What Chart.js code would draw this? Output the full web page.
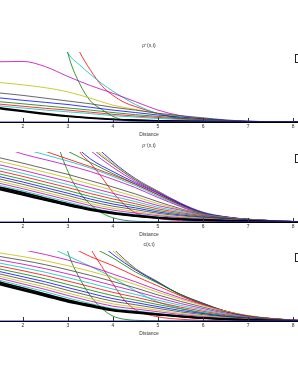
<!DOCTYPE html>
<html>
<head>
<meta charset="utf-8">
<script src="https://cdn.jsdelivr.net/npm/chart.js@4"></script>
<style>
  body { margin: 0; background: #fff; }
  #wrap { position: relative; width: 298px; height: 385px; overflow: hidden; }
  canvas { position: absolute; left: 0; }
</style>
</head>
<body>
<div id="wrap">
  <canvas id="p1" width="298" height="100" style="top:40px"></canvas>
  <canvas id="p2" width="298" height="100" style="top:140px"></canvas>
  <canvas id="p3" width="298" height="100" style="top:239px"></canvas>
</div>
<script>
// x grids (Distance)
const X = [1.4, 2, 2.5, 3, 3.5, 4, 4.5, 5, 5.5, 6, 6.5, 7, 7.5, 8, 8.2];
const XS = [2.5, 2.75, 3, 3.25, 3.5, 3.75, 4, 4.25, 4.5, 5, 5.5, 6, 7, 8.2];
const zeroLine = [0, 0];
const zeroX = [1.3, 8.3];

const titles = ['\u03c1\u207a(x,t)', '\u03c1\u207b(x,t)', 'c(x,t)'];
const xTicks = [2, 3, 4, 5, 6, 7, 8];

// rho+ : curves on X
const rhoPlus = [
  [21, 16, 12, 8.5, 6, 4, 2.8, 1.8, 1.2, 0.8, 0.5, 0.3, 0.1, 0, 0],
  [19.5, 15, 11, 7.8, 5.4, 3.6, 2.4, 1.5, 1, 0.6, 0.4, 0.2, 0.1, 0, 0],
  [23.5, 20, 17, 14.5, 12, 9, 7, 5, 3.5, 2.2, 1.2, 0.5, 0.2, 0, 0],
  [26, 22.5, 19.5, 17, 14, 11, 8.5, 6.5, 4.5, 3, 1.5, 0.6, 0.2, 0.1, 0],
  [29.5, 26, 23, 20, 17, 13.5, 10.5, 8, 5.5, 3.5, 1.8, 0.8, 0.3, 0.1, 0],
  [35, 31, 28, 25, 21, 17, 13.5, 10, 7, 4.5, 2.3, 1, 0.4, 0.1, 0],
  [42, 38, 34, 30, 26, 21, 17, 12.5, 9, 6, 3, 1.2, 0.5, 0.1, 0],
  [57, 53, 49, 43, 34, 24, 18, 12, 8, 5, 2.5, 1, 0.4, 0.1, 0],
  [86, 86.5, 79, 65, 52, 41, 29, 17, 9, 4.5, 2, 0.8, 0.3, 0.1, 0]
];
const rhoPlusColors = ['k', 'k', 'c', 'r', 'g', 'b', 'k', 'y', 'm'];
// rho+ : steep curves on XS
const rhoPlusSteep = [
  [300, 180, 98, 56, 30, 18, 8, 2.5, 1, 0.3, 0, 0, 0, 0],
  [170, 130, 98, 82, 68, 55, 44, 34, 25, 12, 6, 2.7, 0.5, 0],
  [250, 180, 135, 101, 74, 52, 38, 28, 22, 12, 5, 2, 0.3, 0]
];
const rhoPlusSteepColors = ['g', 'c', 'r'];

// rho- : curves on X
const rhoMinus = [
  [51, 42, 34, 26, 19, 13.5, 9.5, 6.5, 4.4, 3, 2, 1.2, 0.6, 0.2, 0],
  [49, 40, 32, 24.5, 17.8, 12.6, 8.8, 6, 4, 2.7, 1.8, 1, 0.5, 0.1, 0],
  [47.5, 38.5, 31, 23.5, 17, 12, 8.3, 5.6, 3.7, 2.5, 1.6, 0.9, 0.4, 0.1, 0],
  [53.5, 44.5, 36.5, 28.5, 20.5, 14.3, 10.9, 7.4, 5, 3.7, 2.4, 1.2, 0.7, 0.2, 0],
  [56.5, 47.5, 39.5, 31.5, 23.3, 16.9, 13, 9, 6.2, 4.4, 2.9, 1.5, 0.8, 0.3, 0.1],
  [59.4, 50.4, 42.4, 34.4, 26.2, 19.6, 15.2, 10.6, 7.4, 5.2, 3.4, 1.8, 1, 0.4, 0.1],
  [62.8, 53.8, 45.8, 37.8, 29.5, 22.6, 17.7, 12.4, 8.8, 6.1, 4, 2.1, 1.2, 0.4, 0.1],
  [66.1, 57.1, 49.1, 41.1, 32.8, 25.7, 20.2, 14.3, 10.1, 7, 4.5, 2.4, 1.4, 0.5, 0.2],
  [69.9, 60.9, 52.9, 44.9, 36.5, 29.1, 23, 16.4, 11.7, 8, 5.2, 2.8, 1.6, 0.6, 0.2],
  [74.1, 65.1, 57.1, 49.1, 40.6, 32.9, 26.1, 18.7, 13.4, 9.1, 5.9, 3.2, 1.9, 0.6, 0.3],
  [78.3, 69.3, 61.3, 53.3, 44.7, 36.7, 29.2, 21, 15.1, 10.2, 6.6, 3.6, 2.1, 0.7, 0.3],
  [82.9, 73.9, 65.9, 57.9, 49.2, 40.9, 32.6, 23.5, 16.9, 10.5, 6, 3.4, 1.9, 0.7, 0.3],
  [88, 79, 71, 63, 54.1, 45.4, 36.3, 26.2, 18, 10.8, 6, 3.3, 1.8, 0.7, 0.3],
  [93, 84, 76, 68, 59, 50, 40, 29, 19, 11, 6, 3.2, 1.7, 0.6, 0.3],
  [110, 97, 89, 81, 72, 61, 49, 35, 22, 11, 6, 3.2, 1.6, 0.5, 0.2],
  [130, 106, 96, 87, 77, 65, 52, 37, 23, 11.5, 6.2, 3.3, 1.7, 0.6, 0.3],
  [150, 115, 101, 90, 79, 67, 54, 39, 24, 12, 6.5, 3.5, 1.8, 0.6, 0.3],
  [200, 150, 120, 101, 85, 69, 54, 39, 24.5, 12.5, 6.8, 3.6, 1.9, 0.6, 0.3],
  [250, 180, 145, 118, 90, 72, 56, 41, 25.5, 13, 7, 3.8, 2, 0.7, 0.3],
  [300, 220, 170, 130, 102, 78, 58, 42, 26, 13, 7, 3.8, 2, 0.7, 0.3],
  [400, 300, 220, 150, 108, 82, 60, 43, 26, 13, 7, 3.8, 2, 0.7, 0.3],
  [420, 320, 230, 160, 112, 84, 61, 44, 26, 13.5, 7, 4, 2, 0.7, 0.3],
  [450, 340, 240, 170, 118, 86, 62, 44, 27, 14, 7.5, 4, 2, 0.7, 0.3]
];
const rhoMinusColors = ['k', 'k', 'k', 'c', 'm', 'y', 'k', 'b', 'g', 'r', 'c', 'm', 'y', 'k',
  'm', 'c', 'r', 'g', 'b', 'm', 'k', 'y', 'b'];
const rhoMinusSteep = [
  [220, 120, 72, 43, 25, 13, 6, 2.5, 1, 0.3, 0, 0, 0, 0],
  [300, 210, 145, 102, 84, 64, 42, 25, 13, 5, 2, 0.8, 0.1, 0]
];
const rhoMinusSteepColors = ['g', 'r'];

// c : curves on X
const conc = [
  [57, 47, 38.5, 30, 23, 16.5, 13, 10, 7, 4.5, 2.8, 1.6, 0.7, 0.2, 0],
  [55, 45, 37, 28.5, 21.8, 15.6, 12.2, 9.3, 6.5, 4.2, 2.6, 1.5, 0.6, 0.2, 0],
  [53.5, 43.5, 35.5, 27.3, 20.8, 14.8, 11.6, 8.8, 6.1, 3.9, 2.4, 1.4, 0.5, 0.1, 0],
  [59.5, 49.7, 41.8, 32.9, 24.9, 17.8, 14.4, 10.9, 7.5, 5.1, 3.2, 1.8, 0.8, 0.3, 0],
  [62.3, 52.9, 45.1, 36.4, 28.4, 21.1, 17.2, 13.2, 9.3, 6.3, 4, 2.3, 1, 0.4, 0.1],
  [65.2, 56, 48.4, 39.8, 31.8, 24.4, 20, 15.4, 11, 7.6, 4.8, 2.7, 1.3, 0.5, 0.1],
  [68.5, 59.6, 52.2, 43.7, 35.7, 28.2, 23.2, 18, 13, 9, 5.7, 3.2, 1.6, 0.6, 0.2],
  [71.8, 63.2, 55.9, 47.6, 39.6, 31.9, 26.4, 20.5, 15, 10.5, 6.6, 3.8, 1.8, 0.7, 0.3],
  [75.5, 67.3, 60.2, 52.1, 44.1, 36.2, 30, 23.4, 17.3, 12.1, 7.7, 4.4, 2.1, 0.8, 0.3],
  [79.6, 71.8, 64.9, 57, 49, 40.9, 34, 26.6, 19.8, 13.9, 8.8, 5, 2.5, 0.9, 0.4],
  [83.7, 76.3, 69.6, 61.9, 53.9, 45.6, 38, 29.8, 22.3, 15.7, 10, 5.7, 2.8, 1, 0.5],
  [88.2, 81.2, 74.7, 67.2, 59.2, 50.7, 42.4, 33.3, 25, 17.7, 11.2, 6.4, 3.2, 1.2, 0.5],
  [93.1, 86.6, 80.4, 73.1, 65.1, 56.4, 47.2, 37.2, 28, 19.8, 12.6, 7.2, 3.6, 1.3, 0.6],
  [98, 92, 86, 79, 71, 62, 52, 41, 31, 22, 14, 8, 4, 1.5, 0.7],
  [115, 102, 95, 87, 78, 67, 56, 44, 33, 23, 14, 7, 3.4, 1.3, 0.6],
  [180, 140, 110, 93, 78, 62, 43, 27, 18, 11, 6.5, 3.7, 1.9, 0.7, 0.3],
  [200, 150, 125, 108, 92, 79, 64, 50, 36, 24, 14, 7, 3.5, 1.3, 0.6],
  [300, 220, 170, 135, 108, 90, 70, 54, 38, 25, 14, 7, 3.5, 1.3, 0.6],
  [350, 260, 200, 155, 122, 95, 73, 55, 38, 25.5, 14, 7, 3.5, 1.3, 0.6],
  [400, 300, 230, 175, 135, 100, 74, 55, 37, 24.5, 14, 7, 3.5, 1.3, 0.6],
  [420, 320, 240, 185, 140, 104, 75, 56, 37, 24, 14, 7, 3.5, 1.3, 0.6]
];
const concColors = ['k', 'k', 'k', 'c', 'm', 'y', 'k', 'b', 'g', 'r', 'c', 'm', 'k', 'y',
  'm', 'c', 'r', 'g', 'b', 'y', 'k'];
const concSteep = [
  [250, 160, 98, 62, 36, 18, 7, 2.5, 1, 0.3, 0, 0, 0, 0],
  [400, 280, 200, 140, 104, 78, 53, 30, 16, 6, 2.5, 1, 0.2, 0]
];
const concSteepColors = ['g', 'r'];

const palette = {
  b: '#0000ff', g: '#008000', r: '#ff0000', c: '#00bfbf',
  m: '#bf00bf', y: '#bfbf00', k: '#404040'
};

const innerTicks = {
  id: 'innerTicks',
  afterDatasetsDraw(chart) {
    const { ctx, chartArea } = chart;
    const x = chart.scales.x;
    ctx.save();
    ctx.strokeStyle = '#333';
    ctx.lineWidth = 1;
    x.ticks.forEach(t => {
      const px = Math.round(x.getPixelForValue(t.value)) + 0.5;
      ctx.beginPath();
      ctx.moveTo(px, chartArea.bottom);
      ctx.lineTo(px, chartArea.bottom - 4);
      ctx.stroke();
    });
    // legend box, cut off at the right edge
    ctx.strokeStyle = '#222';
    ctx.fillStyle = '#fff';
    ctx.fillRect(295.5, chartArea.top + 2.5, 12, 8);
    ctx.strokeRect(295.5, chartArea.top + 2.5, 12, 8);
    ctx.restore();
  }
};

function toPoints(xs, ys) {
  return ys.map((y, i) => ({ x: xs[i], y }));
}

function line(xs, ys, color, width) {
  return {
    data: toPoints(xs, ys),
    borderColor: color,
    borderWidth: width,
    pointRadius: 0,
    cubicInterpolationMode: 'monotone',
    fill: false
  };
}

function makePanel(id, title, curves, colors, steep, steepColors, nBlack) {
  const datasets = [];
  datasets.push(line(zeroX, zeroLine, '#3030ff', 1.2));
  curves.forEach((ys, i) => {
    const black = i < nBlack;
    datasets.push(line(X, ys, black ? '#000' : palette[colors[i]], black ? 1.6 : 0.8));
  });
  steep.forEach((ys, i) => datasets.push(line(XS, ys, palette[steepColors[i]], 0.8)));

  new Chart(document.getElementById(id), {
    type: 'line',
    data: { datasets },
    plugins: [innerTicks],
    options: {
      responsive: false,
      animation: false,
      devicePixelRatio: 1,
      layout: { padding: { left: 0, right: 0, top: 0, bottom: 2 } },
      plugins: {
        legend: { display: false },
        tooltip: { enabled: false },
        title: {
          display: true,
          text: title,
          color: '#333',
          font: { family: 'Liberation Sans', size: 5, weight: 'normal' },
          padding: { top: 3, bottom: 3 }
        }
      },
      scales: {
        x: {
          type: 'linear',
          min: 1.49,
          max: 8.11,
          grid: { display: false, drawTicks: false, tickLength: 0 },
          border: { display: true, color: '#000', width: 1 },
          afterBuildTicks: s => { s.ticks = xTicks.map(v => ({ value: v })); },
          ticks: {
            includeBounds: false,
            color: '#333',
            padding: 1.5,
            maxRotation: 0,
            font: { family: 'Liberation Sans', size: 5 }
          },
          title: {
            display: true,
            text: 'Distance',
            color: '#333',
            padding: { top: 1, bottom: 0 },
            font: { family: 'Liberation Sans', size: 5 }
          }
        },
        y: { display: false, min: 0, max: 100 }
      }
    }
  });
}

makePanel('p1', titles[0], rhoPlus, rhoPlusColors, rhoPlusSteep, rhoPlusSteepColors, 2);
makePanel('p2', titles[1], rhoMinus, rhoMinusColors, rhoMinusSteep, rhoMinusSteepColors, 3);
makePanel('p3', titles[2], conc, concColors, concSteep, concSteepColors, 3);
</script>
</body>
</html>
